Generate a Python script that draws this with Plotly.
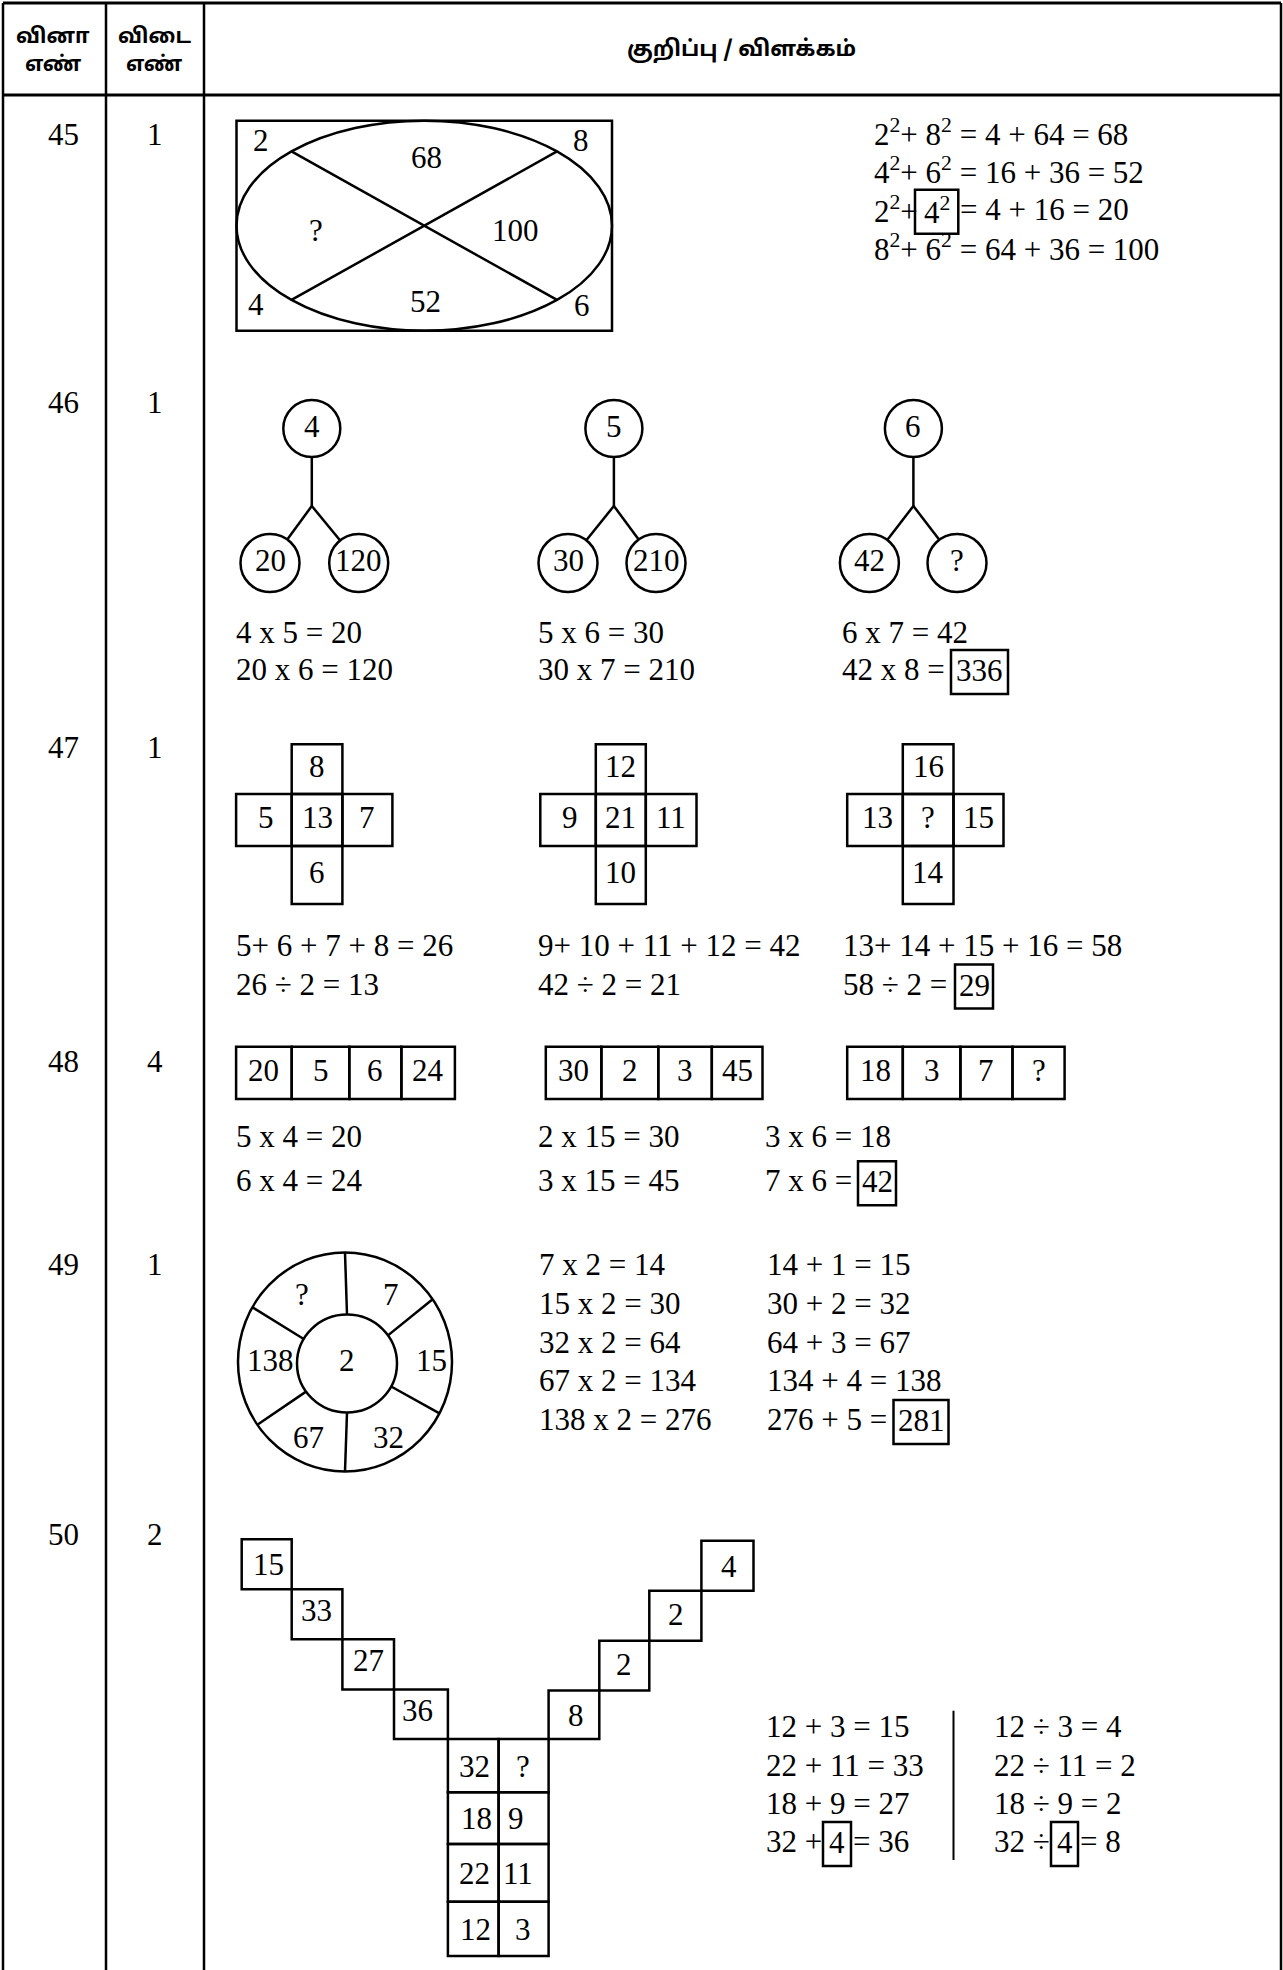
import math
import plotly.graph_objects as go

W, H = 1283, 1970
SERIF = "Liberation Serif"
TAMIL = "Noto Sans Tamil"
FS = 31
TEXT_DY = -2.5
LW = 2.5

# ---------------- data (values only) ----------------
header_question = ["வினா", "எண்"]
header_answer = ["விடை", "எண்"]
header_note = "குறிப்பு / விளக்கம்"
question_numbers = ["45", "46", "47", "48", "49", "50"]
answer_numbers = ["1", "1", "1", "4", "1", "2"]

q45_corners = ["2", "8", "4", "6"]          # TL, TR, BL, BR
q45_sectors = ["68", "?", "100", "52"]      # top, left, right, bottom
q45_equations = [
    ("2<sup>2</sup>+ 8<sup>2</sup> = 4 + 64 = 68", None, None),
    ("4<sup>2</sup>+ 6<sup>2</sup> = 16 + 36 = 52", None, None),
    ("2<sup>2</sup>+", "4<sup>2</sup>", "= 4 + 16 = 20"),
    ("8<sup>2</sup>+ 6<sup>2</sup> = 64 + 36 = 100", None, None),
]

q46_tops = ["4", "5", "6"]
q46_children = [["20", "120"], ["30", "210"], ["42", "?"]]
q46_equations = [
    [("4 x 5 = 20", None, None), ("20 x 6 = 120", None, None)],
    [("5 x 6 = 30", None, None), ("30 x 7 = 210", None, None)],
    [("6 x 7 = 42", None, None), ("42 x 8 =", "336", None)],
]

q47_crosses = [  # top, left, centre, right, bottom
    ["8", "5", "13", "7", "6"],
    ["12", "9", "21", "11", "10"],
    ["16", "13", "?", "15", "14"],
]
q47_equations = [
    [("5+ 6 + 7 + 8 = 26", None, None), ("26 ÷ 2 = 13", None, None)],
    [("9+ 10 + 11 + 12 = 42", None, None), ("42 ÷ 2 = 21", None, None)],
    [("13+ 14 + 15 + 16 = 58", None, None), ("58 ÷ 2 =", "29", None)],
]

q48_strips = [["20", "5", "6", "24"], ["30", "2", "3", "45"], ["18", "3", "7", "?"]]
q48_equations = [
    [("5 x 4 = 20", None, None), ("6 x 4 = 24", None, None)],
    [("2 x 15 = 30", None, None), ("3 x 15 = 45", None, None)],
    [("3 x 6 = 18", None, None), ("7 x 6 =", "42", None)],
]

q49_centre = "2"
q49_sectors = ["?", "7", "15", "32", "67", "138"]
q49_equations = [
    [("7 x 2 = 14", None, None), ("15 x 2 = 30", None, None), ("32 x 2 = 64", None, None),
     ("67 x 2 = 134", None, None), ("138 x 2 = 276", None, None)],
    [("14 + 1 = 15", None, None), ("30 + 2 = 32", None, None), ("64 + 3 = 67", None, None),
     ("134 + 4 = 138", None, None), ("276 + 5 =", "281", None)],
]

q50_left_arm = ["15", "33", "27", "36"]     # top to bottom
q50_right_arm = ["4", "2", "2", "8"]        # top to bottom
q50_stem = [["32", "?"], ["18", "9"], ["22", "11"], ["12", "3"]]
q50_equations = [
    [("12 + 3 = 15", None, None), ("22 + 11 = 33", None, None),
     ("18 + 9 = 27", None, None), ("32 +", "4", "= 36")],
    [("12 ÷ 3 = 4", None, None), ("22 ÷ 11 = 2", None, None),
     ("18 ÷ 9 = 2", None, None), ("32 ÷", "4", "= 8")],
]

# ---------------- layout constants ----------------
TABLE_X = [3, 106, 204, 1281]
TABLE_TOP, HEADER_BOTTOM = 3, 95
ROW_Y = [136.5, 405, 750, 1064, 1267, 1537]
COL_NUM_X, COL_ANS_X = 63.5, 155

shapes, annotations = [], []


def line(x0, y0, x1, y1, w=LW):
    shapes.append(dict(type="line", xref="x", yref="y", x0=x0, y0=y0, x1=x1, y1=y1,
                       line=dict(color="black", width=w)))


def rect(x0, y0, x1, y1, w=LW):
    shapes.append(dict(type="rect", xref="x", yref="y", x0=x0, y0=y0, x1=x1, y1=y1,
                       line=dict(color="black", width=w), fillcolor="rgba(0,0,0,0)"))


def ellipse(cx, cy, rx, ry, w=LW):
    shapes.append(dict(type="circle", xref="x", yref="y", x0=cx - rx, y0=cy - ry,
                       x1=cx + rx, y1=cy + ry, line=dict(color="black", width=w)))


def text(x, y, s, size=FS, anchor="center", family=SERIF, dy=TEXT_DY):
    annotations.append(dict(x=x, y=y + dy, xref="x", yref="y", text=s, showarrow=False,
                            xanchor=anchor, yanchor="middle", borderpad=0,
                            font=dict(family=family, size=size, color="black")))


def equation(x, y, seg, box=None):
    before, boxed, after = seg
    text(x, y, before, anchor="left")
    if boxed is not None:
        bx0, bx1 = box
        rect(bx0, y - 22, bx1, y + 22)
        text((bx0 + bx1) / 2, y + 1, boxed)
        if after:
            text(bx1 + 1, y, after, anchor="left")


# ---------------- table frame ----------------
for x in TABLE_X:
    line(x, TABLE_TOP, x, H + 5, w=2.5)
line(TABLE_X[0], TABLE_TOP, TABLE_X[-1], TABLE_TOP, w=3)
line(TABLE_X[0], HEADER_BOTTOM, TABLE_X[-1], HEADER_BOTTOM, w=3)

text(53, 38, "<b>" + header_question[0] + "</b>", size=21, family=TAMIL, dy=0)
text(53, 66, "<b>" + header_question[1] + "</b>", size=21, family=TAMIL, dy=0)
text(154, 38, "<b>" + header_answer[0] + "</b>", size=21, family=TAMIL, dy=0)
text(154, 66, "<b>" + header_answer[1] + "</b>", size=21, family=TAMIL, dy=0)
text(741, 50, "<b>" + header_note + "</b>", size=22, family=TAMIL, dy=0)

for y, q, a in zip(ROW_Y, question_numbers, answer_numbers):
    text(COL_NUM_X, y, q)
    text(COL_ANS_X, y, a)

# ---------------- Q45 ----------------
x0, x1, y0, y1 = 236.5, 612, 120.7, 330.7
rect(x0, y0, x1, y1)
cx, cy, rx, ry = (x0 + x1) / 2, (y0 + y1) / 2, (x1 - x0) / 2, (y1 - y0) / 2
ellipse(cx, cy, rx, ry)
c = math.cos(math.radians(45))
line(cx - rx * c, cy - ry * c, cx + rx * c, cy + ry * c)
line(cx + rx * c, cy - ry * c, cx - rx * c, cy + ry * c)
for (lx, ly), s in zip([(261, 142.7), (581, 142.7), (256, 307), (582, 308)], q45_corners):
    text(lx, ly, s)
for (lx, ly), s in zip([(426, 160), (316, 232.7), (515, 232.7), (425, 304)], q45_sectors):
    text(lx, ly, s)
for y, seg in zip([135, 173.3, 211.7, 249.5], q45_equations):
    equation(873, y, seg, box=(915, 958.3))

# ---------------- Q46 ----------------
tree_x = [311.8, 613.9, 913.4]
child_x = [[270, 358.7], [568, 656], [869.4, 957]]
top_y, branch_y, child_y = 428.5, 506, 563
r_top, r_child = 28.5, 29.5
eq46_x = [235, 537, 841]
box46 = [None, None, (951, 1008)]
for i in range(3):
    tx = tree_x[i]
    ellipse(tx, top_y, r_top, r_top)
    text(tx, top_y, q46_tops[i])
    line(tx, top_y + r_top, tx, branch_y)
    for cxx, s in zip(child_x[i], q46_children[i]):
        dx, dy = tx - cxx, branch_y - child_y
        d = math.hypot(dx, dy)
        line(tx, branch_y, cxx + r_child * dx / d, child_y + r_child * dy / d)
        ellipse(cxx, child_y, r_child, r_child - 0.5)
        text(cxx, child_y, s)
    for y, seg in zip([635, 672], q46_equations[i]):
        equation(eq46_x[i], y, seg, box=box46[i])

# ---------------- Q47 ----------------
cross_x = [[236.1, 291.7, 342.4, 392.4], [540.3, 595.8, 645.8, 696.5], [847.2, 902.8, 953.5, 1003.5]]
cross_y = [744.3, 794, 846, 904]
eq47_x = [235, 537, 842]
box47 = [None, None, (955, 993)]
for i in range(3):
    X, Y = cross_x[i], cross_y
    rect(X[1], Y[0], X[2], Y[1])
    rect(X[0], Y[1], X[1], Y[2])
    rect(X[1], Y[1], X[2], Y[2])
    rect(X[2], Y[1], X[3], Y[2])
    rect(X[1], Y[2], X[2], Y[3])
    top, left, centre, right, bottom = q47_crosses[i]
    mx = (X[1] + X[2]) / 2
    text(mx, (Y[0] + Y[1]) / 2, top)
    text((X[0] + X[1]) / 2 + 2, (Y[1] + Y[2]) / 2, left)
    text(mx, (Y[1] + Y[2]) / 2, centre)
    text((X[2] + X[3]) / 2, (Y[1] + Y[2]) / 2, right)
    text(mx, (Y[2] + Y[3]) / 2, bottom)
    for y, seg in zip([947.7, 986.5], q47_equations[i]):
        equation(eq47_x[i], y, seg, box=box47[i])

# ---------------- Q48 ----------------
strip_x = [[236.1, 291.7, 349.3, 401.4, 454.9], [545.8, 601.4, 658.3, 711.8, 762.5],
           [847.2, 902.8, 960.4, 1012.5, 1064.6]]
strip_y = [1046.7, 1099]
eq48_x = [235, 537, 764]
box48 = [None, None, (858, 896)]
for i in range(3):
    X = strip_x[i]
    for j in range(4):
        rect(X[j], strip_y[0], X[j + 1], strip_y[1])
        text((X[j] + X[j + 1]) / 2, (strip_y[0] + strip_y[1]) / 2, q48_strips[i][j])
    for y, seg in zip([1139.3, 1183.3], q48_equations[i]):
        equation(eq48_x[i], y, seg, box=box48[i])

# ---------------- Q49 ----------------
ocx, ocy, orx, ory = 345, 1362, 107, 109.5
icx, icy, irx, iry = 347, 1363.5, 50, 49
ellipse(ocx, ocy, orx, ory)
ellipse(icx, icy, irx, iry)
for ang in [90, 35, -28, -90, -145, 150]:
    a = math.radians(ang)
    line(icx + irx * math.cos(a), icy - iry * math.sin(a),
         ocx + orx * math.cos(a), ocy - ory * math.sin(a))
text(347, 1363, q49_centre)
for (lx, ly), s in zip([(302, 1297), (390.5, 1297), (431, 1363), (388.5, 1440),
                        (308, 1440), (270, 1363)], q49_sectors):
    text(lx, ly, s)
eq49_x = [537.5, 765.5]
eq49_y = [1267, 1306, 1345, 1383, 1422]
for k in range(2):
    for y, seg in zip(eq49_y, q49_equations[k]):
        equation(eq49_x[k], y, seg, box=(893.5, 948.5) if seg[1] else None)

# ---------------- Q50 ----------------
left_cells = [(241.7, 1539.3, 291.7, 1589.3), (291.7, 1589.3, 342.4, 1639.3),
              (342.4, 1639.3, 394, 1689.5), (394, 1689.5, 447.9, 1739)]
left_lab = [(268, 1566.7), (316.7, 1613.3), (368, 1663.3), (417.4, 1713.3)]
right_cells = [(701.4, 1540.7, 753.5, 1590.7), (649.3, 1590.7, 701.4, 1640.7),
               (599.3, 1640.7, 649.3, 1690.5), (548.6, 1690.5, 599.3, 1739)]
right_lab = [(729.2, 1569.3), (675.6, 1616.7), (623.5, 1666.7), (575.6, 1718.3)]
for (a, b, c_, d), (lx, ly), s in zip(left_cells, left_lab, q50_left_arm):
    rect(a, b, c_, d)
    text(lx, ly, s)
for (a, b, c_, d), (lx, ly), s in zip(right_cells, right_lab, q50_right_arm):
    rect(a, b, c_, d)
    text(lx, ly, s)
stem_x = [447.9, 498.6, 548.6]
stem_y = [1739, 1792.3, 1844, 1901.7, 1956]
stem_lab_x = [[474.3, 522.9], [476.4, 516], [474.3, 518], [475.7, 522.9]]
for r in range(4):
    for cc in range(2):
        rect(stem_x[cc], stem_y[r], stem_x[cc + 1], stem_y[r + 1])
        text(stem_lab_x[r][cc], (stem_y[r] + stem_y[r + 1]) / 2 + 3, q50_stem[r][cc])
eq50_x = [765, 993]
eq50_y = [1729.3, 1767.5, 1806, 1844]
box50 = [(823, 851), (1051, 1078)]
for k in range(2):
    for y, seg in zip(eq50_y, q50_equations[k]):
        equation(eq50_x[k], y, seg, box=box50[k] if seg[1] else None)
line(953.5, 1710.7, 953.5, 1860, w=2)

# ---------------- figure ----------------
fig = go.Figure()
fig.add_trace(go.Scatter(x=[0, W], y=[0, H], mode="markers", marker=dict(opacity=0),
                         hoverinfo="skip", showlegend=False))
fig.update_layout(
    width=W, height=H, margin=dict(l=0, r=0, t=0, b=0),
    paper_bgcolor="white", plot_bgcolor="white", showlegend=False,
    shapes=shapes, annotations=annotations,
    xaxis=dict(range=[0, W], visible=False, fixedrange=True),
    yaxis=dict(range=[H, 0], visible=False, fixedrange=True),
)
fig.write_html("out.html", config={"displayModeBar": False, "staticPlot": True},
               post_script="document.body.style.margin='0';document.body.style.overflow='hidden';")
